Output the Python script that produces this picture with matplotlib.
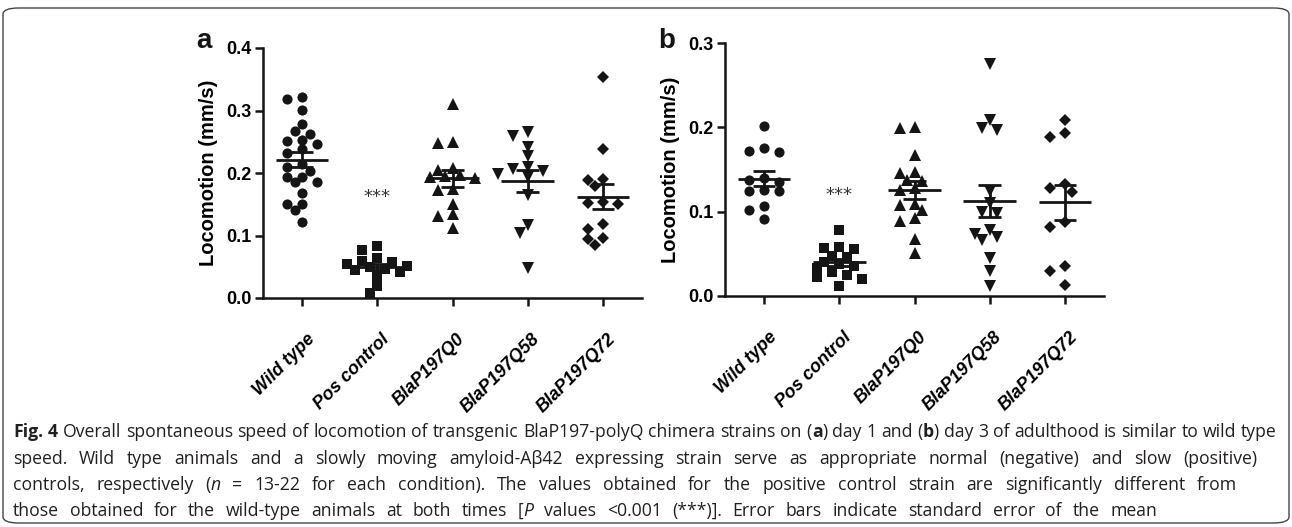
import numpy as np
import matplotlib
matplotlib.use("Agg")
import matplotlib.pyplot as plt
from matplotlib.patches import FancyBboxPatch
from matplotlib.transforms import ScaledTranslation

# ---------------- data ----------------
categories = ["Wild type", "Pos control", "BlaP197Q0", "BlaP197Q58", "BlaP197Q72"]

# Panel a: day 1 (mm/s)
a_wild_type = [0.321, 0.318, 0.301, 0.278, 0.268, 0.263, 0.252, 0.253, 0.246, 0.238, 0.232,
               0.215, 0.210, 0.204, 0.194, 0.194, 0.185, 0.186, 0.168, 0.151, 0.151, 0.141, 0.122]
a_pos_control = [0.084, 0.077, 0.064, 0.060, 0.058, 0.055, 0.052, 0.050, 0.046, 0.045, 0.042,
                 0.036, 0.019, 0.0075]
a_q0 = [0.310, 0.250, 0.248, 0.208, 0.205, 0.197, 0.195, 0.193, 0.192, 0.175, 0.173, 0.150,
        0.134, 0.131, 0.112]
a_q58 = [0.266, 0.260, 0.242, 0.227, 0.210, 0.206, 0.203, 0.198, 0.193, 0.165, 0.117, 0.104, 0.048]
a_q72 = [0.353, 0.238, 0.190, 0.189, 0.180, 0.154, 0.152, 0.150, 0.118, 0.111, 0.096, 0.094, 0.085]

# Panel b: day 3 (mm/s)
b_wild_type = [0.201, 0.175, 0.172, 0.171, 0.140, 0.137, 0.135, 0.126, 0.124, 0.124, 0.107, 0.102, 0.091]
b_pos_control = [0.078, 0.058, 0.057, 0.056, 0.048, 0.046, 0.040, 0.038, 0.035, 0.033, 0.028,
                 0.025, 0.022, 0.020, 0.012]
b_q0 = [0.200, 0.199, 0.167, 0.147, 0.146, 0.138, 0.136, 0.128, 0.126, 0.109, 0.108, 0.102,
        0.092, 0.089, 0.067, 0.051]
b_q58 = [0.275, 0.209, 0.199, 0.197, 0.125, 0.110, 0.100, 0.098, 0.078, 0.074, 0.070, 0.066,
         0.045, 0.030, 0.012]
b_q72 = [0.209, 0.193, 0.189, 0.133, 0.128, 0.123, 0.088, 0.082, 0.035, 0.030, 0.013]

a_ticks = [0.0, 0.1, 0.2, 0.3, 0.4]
b_ticks = [0.0, 0.1, 0.2, 0.3]
ylabel = "Locomotion (mm/s)"
signif = "***"

# ---------------- styles ----------------
plt.rcParams["font.family"] = ["Liberation Sans", "DejaVu Sans"]
INK = "#151515"
marker_styles = [("o", 7.3), ("s", 7.0), ("^", 8.2), ("v", 8.2), ("D", 6.0)]

W, H = 1292, 527
fig = plt.figure(figsize=(W / 100, H / 100), dpi=100)


def ax_at(l, t, r, b):
    return fig.add_axes([l / W, 1 - b / H, (r - l) / W, (b - t) / H])


def swarm_x(ax, xc, values, diam_px=9.2, step_px=7.5):
    vals = np.asarray(values, dtype=float)
    tr = ax.transData
    ypix = tr.transform(np.column_stack([np.full(len(vals), xc), vals]))[:, 1]
    ppu = tr.transform([[1, 0]])[0, 0] - tr.transform([[0, 0]])[0, 0]
    cands = [0]
    for k in range(1, 12):
        cands += [-k, k]
    placed = []
    xs = np.zeros(len(vals))
    for i in np.argsort(-vals, kind="stable"):
        xo = 0.0
        for c in cands:
            xo = c * step_px
            if all((xo - px) ** 2 + (ypix[i] - py) ** 2 >= diam_px ** 2 for px, py in placed):
                break
        placed.append((xo, ypix[i]))
        xs[i] = xc + xo / ppu
    return xs


def panel(ax, groups, ticks, ymax, star_y, letter, letter_x):
    ax.set_xlim(-0.52, 4.52)
    ax.set_ylim(0, ymax)
    for s in ("top", "right"):
        ax.spines[s].set_visible(False)
    for s in ("left", "bottom"):
        ax.spines[s].set_linewidth(1.8)
        ax.spines[s].set_color(INK)
    ax.set_yticks(ticks)
    ax.set_yticklabels([f"{t:.1f}" for t in ticks], fontsize=13, fontweight="bold")
    ax.set_xticks(range(len(categories)))
    ax.set_xticklabels(categories, rotation=45, ha="right", rotation_mode="anchor",
                       fontsize=13, fontweight="bold", fontstyle="italic")
    ax.tick_params(direction="out", length=5.5, width=1.8, color=INK, pad=3)
    ax.tick_params(axis="x", pad=18)
    shift = ScaledTranslation(4 / 100, 0, fig.dpi_scale_trans)
    for lab in ax.get_xticklabels():
        lab.set_transform(lab.get_transform() + shift)
    ax.set_ylabel(ylabel, fontsize=14.5, fontweight="bold")
    ax.yaxis.set_label_coords(-0.12, 0.5)
    for i, vals in enumerate(groups):
        m, ms = marker_styles[i]
        xs = swarm_x(ax, i, vals)
        ax.plot(xs, vals, ls="none", marker=m, markersize=ms, color=INK,
                markeredgewidth=0, zorder=3)
        v = np.asarray(vals)
        mean = v.mean()
        sem = v.std(ddof=1) / np.sqrt(len(v))
        ax.hlines(mean, i - 0.35, i + 0.35, color=INK, lw=2.0, zorder=4)
        ax.vlines(i, mean - sem, mean + sem, color=INK, lw=2.0, zorder=4)
        ax.hlines([mean - sem, mean + sem], i - 0.15, i + 0.15, color=INK, lw=2.0, zorder=4)
    ax.text(1, star_y, signif, ha="center", va="center", fontsize=13,
            family="DejaVu Sans", color="#333333")
    fig.text(letter_x / W, 1 - 48 / H, letter, fontsize=20, fontweight="bold",
             ha="left", va="baseline", color=INK)


axA = ax_at(263, 48, 642, 298)
axB = ax_at(725, 43, 1104, 296)
panel(axA, [a_wild_type, a_pos_control, a_q0, a_q58, a_q72], a_ticks, 0.4, 0.162, "a", 196)
panel(axB, [b_wild_type, b_pos_control, b_q0, b_q58, b_q72], b_ticks, 0.3, 0.120, "b", 658)

# ---------------- border ----------------
fig.patches.append(FancyBboxPatch((3 / W, 4 / H), (W - 6) / W, (H - 12) / H,
                                  boxstyle="round,pad=0,rounding_size=0.012",
                                  transform=fig.transFigure, fill=False,
                                  edgecolor="#444444", lw=1.0))

# ---------------- caption ----------------
CAP_FONT = ["Open Sans", "DejaVu Sans"]
CAP_SIZE = 12.7
CAP_COL = "#231f20"
caption_lines = [
    ([("Fig. 4", "bold", False),
      (" Overall spontaneous speed of locomotion of transgenic BlaP197-polyQ chimera strains on (", "normal", True),
      ("a", "bold", True), (") day 1 and (", "normal", True), ("b", "bold", True),
      (") day 3 of adulthood is similar to wild type", "normal", True)], 430, 1277),
    ([("speed. Wild type animals and a slowly moving amyloid-A\u03b242 expressing strain serve as appropriate normal (negative) and slow (positive)", "normal", False)], 457, 1257),
    ([("controls, respectively (", "normal", False), ("n", "italic", True),
      (" = 13-22 for each condition). The values obtained for the positive control strain are significantly different from", "normal", True)], 483, 1237),
    ([("those obtained for the wild-type animals at both times [", "normal", False), ("P", "italic", True),
      (" values <0.001 (***)]. Error bars indicate standard error of the mean", "normal", True)], 509, 1157),
]

renderer = fig.canvas.get_renderer()


def style_kw(st):
    if st == "bold":
        return dict(fontweight="bold")
    if st == "italic":
        return dict(fontstyle="italic")
    return {}


def piece_width(txt, st):
    t = fig.text(0, 0, txt, fontsize=CAP_SIZE, family=CAP_FONT, **style_kw(st))
    w = t.get_window_extent(renderer).width
    t.remove()
    return w


space_w = piece_width("a a", "normal") - 2 * piece_width("a", "normal")
x_left = 13
for segs, ypix, right in caption_lines:
    words = []
    for text, st, glue in segs:
        parts = text.split(" ")
        for k, p in enumerate(parts):
            if p == "":
                continue
            if k == 0 and glue and words:
                words[-1].append((p, st))
            else:
                words.append([(p, st)])
    widths = [[piece_width(p, st) for p, st in w] for w in words]
    total = sum(sum(w) for w in widths)
    gap = space_w if right is None else (right - x_left - total) / (len(words) - 1)
    gap = max(gap, 0.55 * space_w)
    x = x_left
    for w, ws in zip(words, widths):
        for (p, st), pw in zip(w, ws):
            fig.text(x / W, 1 - ypix / H, p, fontsize=CAP_SIZE, family=CAP_FONT,
                     color=CAP_COL, ha="left", va="center_baseline", **style_kw(st))
            x += pw
        x += gap

fig.savefig("out.png", dpi=100)
